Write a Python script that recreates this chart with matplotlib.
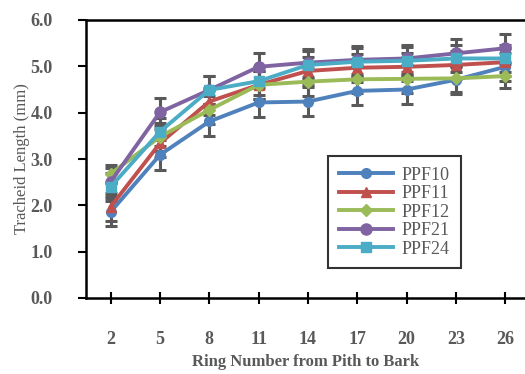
import matplotlib
matplotlib.use("Agg")
import matplotlib.pyplot as plt

rings = ["2", "5", "8", "11", "14", "17", "20", "23", "26"]
ppf10 = [1.86, 3.09, 3.81, 4.22, 4.24, 4.47, 4.50, 4.71, 4.99]
ppf11 = [1.97, 3.34, 4.24, 4.60, 4.90, 4.97, 4.99, 5.03, 5.09]
ppf12 = [2.68, 3.48, 4.06, 4.60, 4.67, 4.72, 4.73, 4.74, 4.79]
ppf21 = [2.51, 4.01, 4.49, 4.99, 5.08, 5.14, 5.17, 5.28, 5.39]
ppf24 = [2.40, 3.59, 4.49, 4.68, 5.03, 5.10, 5.12, 5.17, 5.17]
err10 = [0.30, 0.32, 0.32, 0.32, 0.31, 0.31, 0.31, 0.30, 0.30]
err11 = [0.30, 0.30, 0.30, 0.30, 0.30, 0.30, 0.30, 0.30, 0.30]
err12 = [0.20, 0.30, 0.30, 0.30, 0.30, 0.30, 0.30, 0.30, 0.25]
err21 = [0.30, 0.30, 0.30, 0.30, 0.30, 0.30, 0.30, 0.30, 0.30]
err24 = [0.30, 0.30, 0.30, 0.30, 0.30, 0.30, 0.30, 0.30, 0.30]
names = ["PPF10", "PPF11", "PPF12", "PPF21", "PPF24"]

series = [ppf10, ppf11, ppf12, ppf21, ppf24]
errs = [err10, err11, err12, err21, err24]
colors = ["#4F81BD", "#C0504D", "#9BBB59", "#8064A2", "#4BACC6"]
markers = ["o", "^", "D", "o", "s"]
msizes = [7, 7, 6, 8, 7]

plt.rcParams['font.family'] = ['Liberation Serif', 'DejaVu Serif']
gray = "#595959"

fig = plt.figure(figsize=(5.25, 3.74), dpi=100)
ax = fig.add_axes([86/525, 1-298/374, 1-86/525, (298-20)/374])

x = list(range(len(rings)))
for s, e, c, m, ms, n in zip(series, errs, colors, markers, msizes, names):
    ax.errorbar(x, s, yerr=e, fmt='none', ecolor=gray, elinewidth=2.2,
                capsize=4.5, capthick=2.2, zorder=2)
    ax.plot(x, s, color=c, marker=m, markersize=ms, linewidth=2.8,
            label=n, zorder=3)

ax.set_xlim(-0.5, 8.4)
ax.set_ylim(0, 6)
ax.set_xticks(x)
ax.set_xticklabels(rings)
ax.set_yticks([0, 1, 2, 3, 4, 5, 6])
ax.set_yticklabels([f"{v:.1f}" for v in range(7)])

for lab in ax.get_xticklabels() + ax.get_yticklabels():
    lab.set_fontweight('bold')
    lab.set_color(gray)
    lab.set_fontsize(13)

ax.tick_params(axis='x', direction='inout', length=8, width=1.5, pad=20)
ax.tick_params(axis='y', direction='out', length=6, width=1.5, pad=18)

ax.spines['right'].set_visible(False)
for sp in ['left', 'bottom', 'top']:
    ax.spines[sp].set_linewidth(1.8)
    ax.spines[sp].set_color('black')

ax.set_xlabel("Ring Number from Pith to Bark", fontsize=12, fontweight='bold',
              color=gray, labelpad=4)
ax.set_ylabel("Tracheid Length (mm)", fontsize=12, color=gray, labelpad=0)

leg = ax.legend(loc='upper left', bbox_to_anchor=(0.551, 0.511), borderaxespad=0,
                fontsize=13, handlelength=3.0, frameon=True, fancybox=False,
                labelspacing=0.08, borderpad=0.6, handletextpad=0.5)
leg.get_frame().set_edgecolor('black')
leg.get_frame().set_linewidth(1.5)
for t in leg.get_texts():
    t.set_color(gray)

fig.savefig("out.png", dpi=100)
